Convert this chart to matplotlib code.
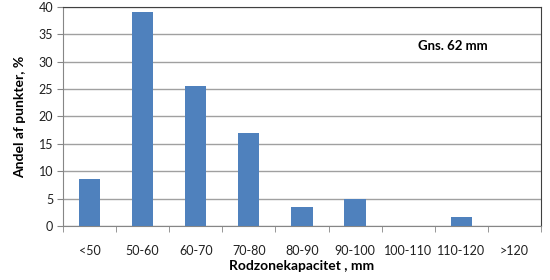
import matplotlib
matplotlib.use("Agg")
import matplotlib.pyplot as plt
import numpy as np

plt.rcParams['font.family'] = ['Lato', 'DejaVu Sans']

categories = ["<50", "50-60", "60-70", "70-80", "80-90", "90-100", "100-110", "110-120", ">120"]
values = [8.5, 39, 25.5, 17, 3.5, 5, 0, 1.7, 0]

fig = plt.figure(figsize=(5.5, 2.8), dpi=100)
ax = fig.add_axes([0.1145, 0.193, 0.869, 0.782])
x = np.arange(len(categories))
ax.bar(x, values, width=0.4, color="#4F81BD", zorder=3)
ax.set_xlim(-0.5, len(categories) - 0.5)
ax.set_ylim(0, 40)
ax.set_yticks(range(0, 41, 5))
ax.yaxis.grid(True, color="#A0A0A0", linewidth=1)
ax.set_axisbelow(True)
ax.set_xticks(x)
ax.set_xticklabels(categories)
ax.set_xticks(np.arange(-0.5, len(categories), 1), minor=True)
ax.tick_params(axis='x', which='major', length=0, pad=14, labelsize=9, colors='#202020')
ax.tick_params(axis='x', which='minor', length=4, color='#868686', direction='out')
ax.tick_params(axis='y', length=4, color='#868686', labelsize=9, pad=3)
for lab in ax.get_yticklabels():
    lab.set_color('#202020')
ax.spines['left'].set_color('#868686')
ax.spines['bottom'].set_color('#868686')
ax.spines['top'].set_color('#404040')
ax.spines['right'].set_color('#404040')
ax.set_xlabel("Rodzonekapacitet , mm", fontsize=10, fontweight='bold', labelpad=2)
ax.set_ylabel("Andel af punkter, %", fontsize=10, fontweight='bold', labelpad=9)
ax.text(0.815, 0.82, "Gns. 62 mm", transform=ax.transAxes, fontsize=9.5, fontweight='bold', ha='center', va='center')
fig.savefig("out.png", dpi=100)
